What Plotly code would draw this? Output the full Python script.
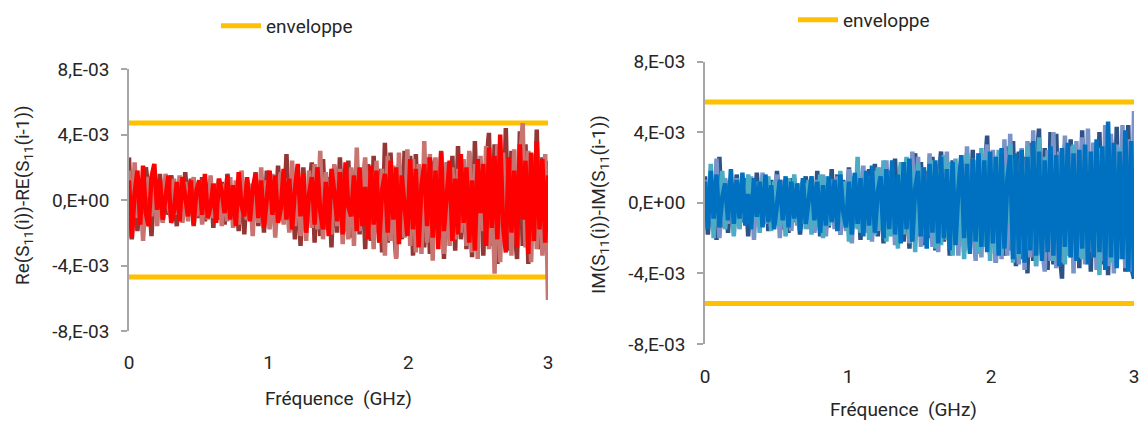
import plotly.graph_objects as go

# ---------------- data (values in units of 1e-3) ----------------
freq_start = 0.0
freq_end = 3.0
x_tickvals = [0, 1, 2, 3]
x_ticktext = ["0", "1", "2", "3"]
y_tickvals = [-8, -4, 0, 4, 8]
y_ticktext = ["-8,E-03", "-4,E-03", "0,E+00", "4,E-03", "8,E-03"]

envelope_re = 4.7
envelope_im = 5.7

re_maroon = [2.6, -2.4, 1.5, -1.9, 0.8, -1.2, 2.0, 0.5, -2.2, 1.2,
             -0.7, 1.6, -1.3, 1.2, -0.9, 1.5, 0.4, -1.6, 1.0, -1.2,
             1.7, -0.8, 1.3, -1.6, 0.7, -1.1, 1.4, -1.3, 0.6, 1.2,
             -1.7, 1.0, -1.2, 1.1, -1.5, 1.6, -0.5, -1.2, 0.9, -1.9,
             1.5, -2.1, 1.2, 0.3, -1.4, 1.7, -1.6, 1.3, -2.0, 1.8,
             -1.1, 1.4, -1.7, 2.1, -0.6, -1.3, 2.8, -1.9, 1.6, -2.4,
             1.5, -2.8, 2.0, -1.5, 0.4, 2.3, -2.6, 1.7, -2.2, 2.5,
             -1.8, 1.4, -2.9, 2.1, -2.0, 2.6, -0.9, -1.9, 2.4, -2.3,
             1.1, 2.2, -2.1, 1.8, -3.0, 2.2, -2.5, 2.7, -2.0, 1.9,
             -3.2, 3.5, -2.6, 2.9, -1.2, -3.5, 2.2, -2.4, 3.0, -2.1,
             2.7, -3.4, 2.8, -2.2, 1.3, -2.9, 2.6, -3.3, 2.0, 2.5,
             -2.4, 3.0, -3.6, 2.3, -1.8, 2.7, -3.1, 3.3, -2.4, 1.6,
             -3.0, 2.9, -3.5, 3.6, -2.0, 2.4, -3.4, 2.1, 4.1, -2.8,
             3.4, -3.9, 2.8, -2.5, 4.4, -3.1, 3.0, -1.6, -3.6, 4.2,
             -2.8, 3.4, -3.9, 2.8, -2.5, 4.3, -3.0, 2.6, -2.9, 2.4]
re_rose = [1.8, -2.0, 2.3, -1.1, 1.0, -2.5, 0.6, 1.4, -1.0, 1.6,
           -1.6, 0.9, -1.4, 1.6, -0.4, -1.1, 1.3, -0.9, 1.5, -1.4,
           1.1, -1.3, 0.5, 1.4, -1.0, 1.2, -1.5, 0.9, -1.2, 1.5,
           -1.1, 0.3, 1.3, -1.6, 1.0, -1.3, 1.4, -1.7, 1.2, -1.5,
           1.8, -0.6, -1.2, 1.0, -2.2, 1.5, -1.4, 2.0, -1.3, 1.2,
           -1.8, 1.6, -2.3, 0.7, 1.7, -1.5, 1.3, -2.0, 2.4, -1.6,
           1.9, -2.2, 0.8, -2.5, 1.8, -1.7, 2.2, -1.8, 3.0, -2.4,
           1.7, -0.5, -2.1, 2.2, -1.6, 1.9, -2.7, 1.6, -2.4, 2.0,
           -2.8, 3.2, -1.9, 0.9, 2.6, -2.3, 1.8, -3.0, 2.4, -2.6,
           1.9, -3.4, 2.7, -2.5, 2.1, -3.6, 2.9, -0.8, -2.3, 3.1,
           -2.8, 2.5, -3.2, 2.2, -3.3, 3.6, -2.6, 2.8, -3.7, 2.6,
           -1.5, 2.7, -3.3, 2.3, -2.8, 2.0, -2.4, 1.9, -2.0, 2.5,
           -2.8, 3.0, -3.2, 2.2, -3.6, 2.7, -1.9, 3.3, -3.0, 2.1,
           -4.5, 3.4, -3.8, 2.9, -2.2, 2.5, -3.4, 3.1, -2.7, 2.3,
           4.7, -2.9, 3.0, -3.8, 2.5, -3.0, 2.2, -3.4, 2.8, -6.1]
re_red = [1.2, -2.3, 0.4, 1.8, -1.5, 2.1, -0.8, -1.6, 1.4, 2.2,
          -0.6, 1.3, -1.2, 0.2, 1.5, -1.4, -0.7, 1.1, -1.3, 1.4,
          0.3, -1.0, 1.2, -1.5, 0.6, 1.2, -0.9, 1.6, -1.1, -0.4,
          1.0, -1.4, 1.3, 0.5, -0.8, 1.5, -1.2, 0.9, -1.6, 1.7,
          -0.3, -1.0, 1.4, -1.3, 0.7, 1.6, -1.1, 1.2, -1.7, 0.4,
          1.8, -0.9, 1.5, -1.4, -0.5, 1.9, -1.2, 1.3, -1.8, 0.6,
          2.2, -1.0, 1.6, -2.0, 0.3, 1.4, -1.5, 2.0, -0.7, -1.8,
          1.1, -2.2, 1.9, 0.5, -1.3, 1.7, -2.1, 2.3, -0.4, -1.0,
          1.5, -1.9, 2.0, -1.6, 0.8, -2.4, 2.1, -1.5, 1.8, -2.6,
          0.6, 1.6, -2.0, 2.4, -1.2, 2.0, -2.7, 1.5, -0.5, -2.2,
          2.5, -1.8, 1.9, -2.9, 0.9, 2.2, -1.6, 2.6, -2.3, 1.8,
          -3.0, 2.9, -1.9, 0.7, 2.4, -2.5, 1.3, -2.1, 2.8, -1.4,
          2.0, -2.6, 1.2, -3.1, 2.5, -0.8, 2.2, -2.8, 3.2, -1.7,
          2.7, -2.4, 4.0, -1.5, -3.2, 2.6, -2.0, 1.8, -2.9, 3.4,
          -1.2, 2.4, -3.3, 2.9, -2.5, 3.6, -1.8, 2.5, -2.6, 1.5]

im_navy = [1.5, -1.8, 0.6, 1.2, -2.1, 2.6, -1.4, 1.3, -1.7, 0.9,
           -1.5, 1.6, -0.4, -1.1, 1.4, -1.9, 1.0, -1.3, 1.7, -1.0,
           0.5, 1.2, -1.6, 1.3, -1.2, 1.8, -0.7, -1.5, 0.9, -1.7,
           1.4, -1.1, 1.1, -1.8, 0.3, 1.5, -1.3, 1.0, -1.6, 1.8,
           -1.9, 1.2, -0.6, -1.4, 1.9, -1.1, 1.6, -1.8, 1.3, -1.5,
           2.0, -1.2, 0.8, 1.7, -2.1, 1.4, -1.6, 1.9, -1.4, 2.2,
           -1.9, 1.5, -2.3, 0.6, 1.8, -1.6, 2.5, -1.8, 2.1, -2.2,
           1.7, -2.6, 0.9, 2.8, -1.9, 2.3, -2.4, 1.8, -2.0, 2.6,
           -2.7, 1.2, 2.9, -2.2, 2.0, -3.0, 2.4, -0.8, -2.5, 2.2,
           -2.8, 2.8, -2.3, 3.0, -3.1, 2.5, -2.6, 1.4, 3.8, -2.9,
           2.7, -3.4, 2.4, -1.5, -3.0, 3.2, -2.7, 3.5, -3.6, 2.9,
           -3.2, 2.6, -4.0, 3.4, -3.3, 2.0, 4.2, -2.9, 3.1, -3.8,
           4.0, -3.5, 3.9, -2.5, -4.3, 3.3, -3.0, 3.6, -3.4, 2.8,
           -3.7, 4.1, -3.2, 2.5, -3.9, 3.4, -2.8, 4.0, -3.5, 3.0,
           -4.1, 3.6, -3.3, 4.3, -2.6, 3.2, -3.9, 4.4, -3.6, -4.3]
im_periwinkle = [1.3, -1.0, 1.6, -1.6, 2.5, -2.0, 0.4, 1.4, -1.2, 1.0,
                 -1.7, 1.4, -1.5, 1.0, -0.5, -1.1, 1.5, -2.1, 1.2, -1.3,
                 1.7, -1.2, 1.0, -1.4, 0.3, 1.6, -2.0, 1.3, -1.1, 1.2,
                 -1.6, 1.4, -1.3, 0.6, -1.2, 1.1, -1.5, 1.4, -1.7, 1.3,
                 -1.1, 1.6, -1.9, 0.8, 1.3, -1.5, 1.5, -1.8, 1.2, -1.6,
                 1.9, -2.3, 1.3, -1.5, 0.5, 2.1, -1.7, 1.5, -2.2, 1.8,
                 -1.6, 2.0, -2.0, 2.4, -1.9, 1.9, -2.4, 0.7, 2.0, -1.7,
                 2.5, -2.3, 2.9, -2.1, 2.6, -2.5, 1.2, -1.9, 2.8, -2.5,
                 2.1, -2.8, 2.6, -2.0, 2.9, -2.6, 1.6, 2.2, -3.0, 2.7,
                 -2.4, 3.2, -2.7, 2.5, -3.3, 2.8, -3.1, 1.9, 3.3, -2.6,
                 3.0, -3.4, 2.7, -3.2, 3.6, -3.0, 3.9, -2.9, 2.1, -3.5,
                 3.1, -3.8, 3.5, -3.1, 4.1, -3.6, 3.3, -2.4, -3.9, 3.0,
                 -3.3, 4.0, -3.7, 2.9, -3.4, 3.8, -3.0, 3.2, -4.0, 3.5,
                 -3.1, 3.7, -3.5, 4.2, -2.8, 3.4, -3.8, 3.1, -3.3, 4.4,
                 -3.6, 3.9, -4.0, 3.3, -3.2, 4.4, -3.7, 3.6, -3.9, 5.2]
im_teal = [1.0, -1.3, 2.2, -2.0, 1.5, -0.9, 1.8, -1.5, 0.5, 1.2,
           -1.9, 0.8, -1.4, 1.3, -1.2, 1.6, 0.4, -0.9, 1.1, -1.7,
           1.4, -1.0, 1.5, -1.6, 1.2, -0.6, -1.3, 1.0, -1.9, 1.4,
           -1.2, 1.6, -1.1, 0.7, 1.2, -1.5, 1.3, -1.8, 1.1, -1.4,
           1.6, -2.0, 1.5, -1.3, 0.3, 1.0, -1.6, 1.8, -1.3, 1.2,
           -2.2, 1.5, -1.4, 2.6, -1.7, 0.6, 1.6, -2.1, 1.4, -1.8,
           2.0, -1.5, 2.4, -2.2, 1.7, -1.9, 0.8, -2.6, 2.3, -1.8,
           2.6, -2.0, 1.9, -2.8, 2.2, -1.7, 2.0, -2.3, 0.9, 2.4,
           -2.6, 1.9, -2.4, 2.7, -2.1, 2.3, -3.0, 2.5, -2.2, 2.1,
           -3.2, 2.8, -2.6, 1.0, 2.4, -2.9, 3.1, -2.5, 2.7, -3.3,
           2.3, -2.8, 3.0, -2.9, 2.1, -1.2, 3.3, -3.4, 2.5, -3.1,
           2.6, -3.0, 3.2, -2.7, 2.9, -3.6, 3.7, -3.0, 2.6, -2.4,
           3.0, -3.3, 2.5, -2.9, 3.1, -3.5, 2.8, -3.1, 3.3, -2.7,
           2.4, -3.2, 3.0, -2.6, 2.8, -3.1, 2.2, -4.1, 3.2, -3.0,
           2.6, -3.4, 2.9, -2.5, 3.1, -2.8, 2.4, -3.3, 2.7, -2.9]
im_blue = [1.2, -1.5, 1.8, -0.9, 1.6, -1.4, 0.3, 1.1, -1.0, 1.9,
           -1.2, 1.3, -0.9, 1.7, -1.3, 0.5, -1.5, 1.4, -0.8, 1.2,
           -1.4, 1.6, -1.1, 1.0, -1.5, 0.2, 1.3, -1.0, 1.5, -1.4,
           1.2, -0.9, 1.1, -1.6, 1.4, -1.2, 0.4, 1.5, -1.0, 1.2,
           -1.7, 1.0, -1.3, 1.5, -1.1, 1.3, -1.6, 1.6, -0.5, -1.4,
           1.2, -1.8, 1.7, -1.2, 1.4, -1.9, 1.8, -1.3, 2.1, -1.7,
           0.6, 1.5, -2.0, 1.9, -1.5, 2.4, -1.8, 1.6, -2.3, 2.3,
           -1.5, 2.5, -2.2, 0.8, 1.8, -1.9, 2.0, -2.6, 2.2, -1.7,
           2.4, -2.3, 2.6, -2.0, 1.9, -2.7, 2.3, -2.4, 0.7, 2.7,
           -2.0, 2.2, -2.9, 2.5, -2.2, 2.8, -2.5, 2.4, -2.8, 2.9,
           -2.3, 2.6, -3.0, 3.1, -2.6, 1.3, 2.7, -3.2, 2.8, -2.9,
           3.0, -3.4, 2.6, -2.7, 3.5, -3.0, 2.9, -3.3, 2.4, -2.8,
           3.2, -3.0, 2.7, -3.6, 3.1, -2.5, 3.4, -3.1, 2.8, -3.3,
           3.0, -2.6, 3.3, -3.5, 2.9, -3.1, 3.6, -2.8, 3.2, -3.8,
           4.6, -3.1, 3.4, -3.7, 2.9, -3.2, 4.1, -3.9, 3.5, -4.2]

# ---------------- styling ----------------
FONT = "Liberation Sans Narrow, Arial Narrow, Roboto, sans-serif"
TXT = "#262626"
AX = "#A6A6A6"
YELLOW = "#FFC000"
FS = 19
# the body margin is removed after plotting, so the figure fills the window
W, H = 1146, 422


def px(x):
    return x / W


def py(y):
    return 1 - y / H


fig = go.Figure()


def add_series(vals, color, xa, ya, width=4.5):
    fig.add_trace(go.Scatter(
        y=vals, x0=freq_start, dx=(freq_end - freq_start) / (len(vals) - 1),
        mode="lines", line=dict(color=color, width=width),
        xaxis=xa, yaxis=ya, showlegend=False, hoverinfo="skip"))


def add_envelope(level, xa, ya, legend):
    fig.add_trace(go.Scatter(
        x=[freq_start, freq_end], y=[level, level], mode="lines",
        line=dict(color=YELLOW, width=5), name="enveloppe",
        legendgroup=legend, legend=legend, showlegend=True,
        xaxis=xa, yaxis=ya))
    fig.add_trace(go.Scatter(
        x=[freq_start, freq_end], y=[-level, -level], mode="lines",
        line=dict(color=YELLOW, width=5), name="enveloppe",
        legendgroup=legend, legend=legend, showlegend=False,
        xaxis=xa, yaxis=ya))


# left chart
add_envelope(envelope_re, "x", "y", "legend")
add_series(re_maroon, "#943634", "x", "y")
add_series(re_rose, "#C87470", "x", "y")
add_series(re_red, "#FF0000", "x", "y")

# right chart
add_envelope(envelope_im, "x2", "y2", "legend2")
add_series(im_navy, "#2E5286", "x2", "y2")
add_series(im_periwinkle, "#7A93C8", "x2", "y2")
add_series(im_teal, "#4BACC6", "x2", "y2")
add_series(im_blue, "#0070C0", "x2", "y2")


def xaxis_cfg(dom, anchor, standoff):
    return dict(domain=dom, range=[freq_start, freq_end], anchor=anchor,
                automargin=False, ticklabeloverflow="allow",
                tickvals=x_tickvals, ticktext=x_ticktext, showline=False,
                ticks="", showgrid=False, zeroline=False,
                ticklabelstandoff=standoff,
                tickfont=dict(family=FONT, size=FS, color=TXT))


def yaxis_cfg(dom, anchor):
    return dict(domain=dom, range=[-8, 8], anchor=anchor,
                automargin=False,
                tickvals=y_tickvals, ticktext=y_ticktext,
                showline=True, linecolor=AX, linewidth=1.5,
                ticks="outside", ticklen=6, tickcolor=AX, tickwidth=1.5,
                ticklabelstandoff=8,
                showgrid=False, zeroline=False,
                tickfont=dict(family=FONT, size=FS, color=TXT))


def ann(text, x, y, angle=0):
    return dict(text=text, x=px(x), y=py(y), xref="paper", yref="paper",
                textangle=angle, showarrow=False, xanchor="center",
                yanchor="middle", font=dict(family=FONT, size=FS, color=TXT))


fig.update_layout(
    template="none",
    width=W, height=H,
    margin=dict(l=0, r=0, t=0, b=0, autoexpand=False),
    paper_bgcolor="white", plot_bgcolor="white",
    font=dict(family=FONT, size=FS, color=TXT),
    xaxis=xaxis_cfg([px(129), px(548)], "y", 18),
    yaxis=yaxis_cfg([py(331), py(69)], "x"),
    xaxis2=xaxis_cfg([px(705), px(1134)], "y2", 19),
    yaxis2=yaxis_cfg([py(344), py(61.5)], "x2"),
    legend=dict(x=px(216), y=py(26), xanchor="left", yanchor="middle",
                orientation="h", bgcolor="rgba(0,0,0,0)", itemwidth=40,
                font=dict(family=FONT, size=FS, color=TXT)),
    legend2=dict(x=px(793), y=py(20), xanchor="left", yanchor="middle",
                 orientation="h", bgcolor="rgba(0,0,0,0)", itemwidth=40,
                 font=dict(family=FONT, size=FS, color=TXT)),
    annotations=[
        ann("Re(S<sub>11</sub>(i))-RE(S<sub>11</sub>(i-1))", 23, 195, -90),
        ann("Fréquence  (GHz)", 338, 398),
        ann("IM(S<sub>11</sub>(i))-IM(S<sub>11</sub>(i-1))", 600, 205, -90),
        ann("Fréquence  (GHz)", 903, 409),
    ],
)

fig.write_html("out.html", config={"displayModeBar": False},
               post_script="document.body.style.margin='0';")
